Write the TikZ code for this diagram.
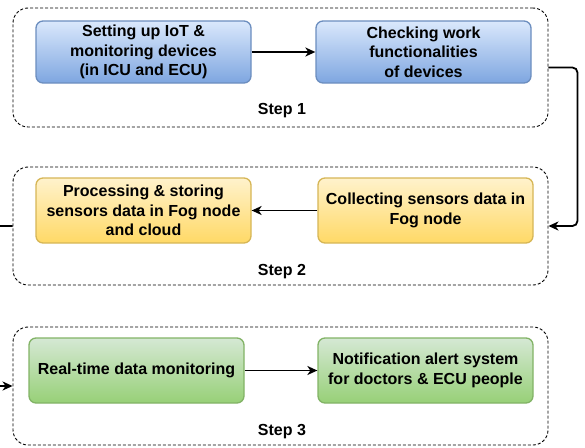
\documentclass[tikz,border=0pt]{standalone}
\usepackage{fontspec}
\setmainfont{Liberation Sans}
\usetikzlibrary{arrows.meta}
\definecolor{bluetop}{HTML}{DAE8FC}
\definecolor{bluebot}{HTML}{7EA6E0}
\definecolor{blueline}{HTML}{6C8EBF}
\definecolor{yeltop}{HTML}{FFF2CC}
\definecolor{yelbot}{HTML}{FFD966}
\definecolor{yelline}{HTML}{D6B656}
\definecolor{grntop}{HTML}{D5E8D4}
\definecolor{grnbot}{HTML}{97D077}
\definecolor{grnline}{HTML}{82B366}
\tikzset{
  task/.style={rounded corners=7pt, line width=1.3pt, minimum width=215pt,
    align=center, inner sep=2pt,
    font=\fontsize{16}{19.5}\selectfont\bfseries},
  bluebox/.style={task, draw=blueline, top color=bluetop, bottom color=bluebot},
  yelbox/.style={task, draw=yelline, top color=yeltop, bottom color=yelbot},
  grnbox/.style={task, draw=grnline, top color=grntop, bottom color=grnbot},
  frame/.style={draw, rounded corners=15pt, line width=0.9pt,
    dash pattern=on 3pt off 2pt, minimum width=535pt},
  steplabel/.style={font=\fontsize{16}{19.5}\selectfont\bfseries},
  conn/.style={line width=1.8pt, -{Stealth[length=10pt,width=9pt,inset=3pt]}},
}
\begin{document}
\begin{tikzpicture}[x=1pt, y=-1pt]
  \clip (0,0) rectangle (585,447);
  % step frames
  \node[frame, minimum height=119pt] (f1) at (280.5,67.5) {};
  \node[frame, minimum height=118pt] (f2) at (280.5,226) {};
  \node[frame, minimum height=118pt] (f3) at (280.5,386) {};
  \node[steplabel] (s1) at (282,111) {Step 1};
  \node[steplabel] (s2) at (282,272) {Step 2};
  \node[steplabel] (s3) at (282,432) {Step 3};
  % step 1
  \node[bluebox, minimum height=62pt] (b1) at (143.5,52) {Setting up IoT \&\\monitoring devices\\(in ICU and ECU)};
  \node[bluebox, minimum height=62pt] (b2) at (423.5,52) {Checking work\\functionalities\\of devices};
  % step 2
  \node[yelbox, minimum height=65pt] (y1) at (143.5,210.5) {Processing \& storing\\sensors data in Fog node\\and cloud};
  \node[yelbox, minimum height=65pt] (y2) at (425.5,210.5) {Collecting sensors data in\\Fog node};
  % step 3
  \node[grnbox, minimum height=65pt] (g1) at (136.5,370.5) {Real-time data monitoring};
  \node[grnbox, minimum height=65pt] (g2) at (425.5,370.5) {Notification alert system\\for doctors \& ECU people};
  % arrows inside the steps
  \draw[conn] (b1) -- (b2);
  \draw[conn] (y2) -- (y1);
  \draw[conn] (g1) -- (g2);
  % arrows between the steps
  \draw[conn, rounded corners=5pt] (f1.east) -- ++(29,0) |- (f2.east);
  \draw[conn, rounded corners=5pt] (f2.west) -- ++(-25,0) |- (f3.west);
\end{tikzpicture}
\end{document}
